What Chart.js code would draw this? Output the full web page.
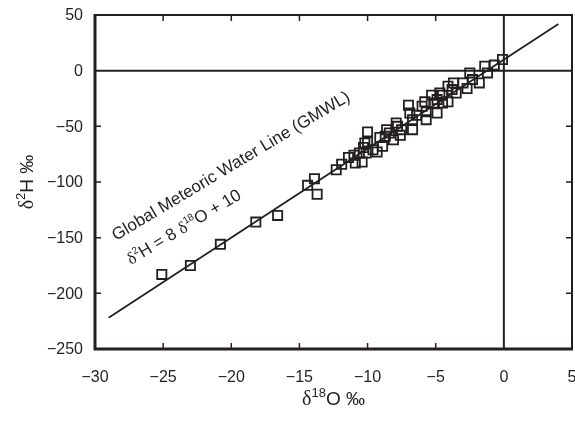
<!DOCTYPE html>
<html>
<head>
<meta charset="utf-8">
<script src="https://cdn.jsdelivr.net/npm/chart.js@4"></script>
<style>
  html, body { margin: 0; padding: 0; background: #fff; }
  #wrap { width: 575px; height: 421px; position: relative; }
</style>
</head>
<body>
<div id="wrap"><canvas id="chart"></canvas></div>
<script>
// samples: d18O (x) and d2H (y), per mil
const d18O = [
  -25.1, -23.0, -20.8, -18.2, -16.6, -14.4, -13.9, -13.7, -12.3, -11.9,
  -11.4, -11.0, -10.9, -10.6, -10.4, -10.3, -10.1, -10.0, -10.0, -10.2,
  -9.6, -9.3, -9.1, -8.9, -8.7, -8.6, -8.4, -8.1, -7.9, -7.8,
  -7.6, -7.5, -7.0, -6.9, -6.7, -6.7, -6.4, -6.0, -5.8, -5.7,
  -5.7, -5.3, -5.1, -4.9, -4.9, -4.7, -4.5, -4.5, -4.1, -4.1,
  -3.8, -3.7, -3.5, -3.0, -2.7, -2.5, -2.3, -1.8, -1.4, -1.2,
  -0.7, -0.1
];
const d2H = [
  -183, -175, -156, -136, -130, -103, -97, -111, -89, -84,
  -78, -76, -83, -74, -82, -69, -74, -64, -55, -65,
  -71, -73, -60, -68, -59, -53, -56, -62, -47, -50,
  -58, -53, -31, -38, -44, -53, -40, -32, -28, -37,
  -44, -22, -29, -38, -26, -20, -29, -22, -14, -28,
  -17, -11, -20, -11, -16, -2, -8, -11, 4, -2,
  5, 10
];
// GMWL: d2H = 8 d18O + 10, end points
const lineX = [-29, 4];
const lineY = [-222, 42];

const xTicks = [-30, -25, -20, -15, -10, -5, 0, 5];
const yTicks = [50, 0, -50, -100, -150, -200, -250];

const INK = '#231f20';
const SANS = '"Liberation Sans", Arial, sans-serif';
const SERIF = '"Liberation Serif", "Times New Roman", serif';

const tickLabel = v => String(v).replace('-', '\u2212');

// draw a run of text pieces (for superscripts / mixed fonts)
function drawRich(ctx, parts, x, y, angle, align) {
  ctx.save();
  ctx.translate(x, y);
  ctx.rotate(angle);
  ctx.textBaseline = 'alphabetic';
  ctx.textAlign = 'left';
  let total = 0;
  const widths = parts.map(p => { ctx.font = p.font; const w = ctx.measureText(p.t).width; total += w; return w; });
  let cx = align === 'center' ? -total / 2 : 0;
  parts.forEach((p, i) => {
    ctx.font = p.font;
    ctx.fillText(p.t, cx, p.dy || 0);
    cx += widths[i];
  });
  ctx.restore();
}

const framePlugin = {
  id: 'frame',
  afterDatasetsDraw(chart) {
    const { ctx, chartArea: a, scales: { x, y } } = chart;
    ctx.save();
    ctx.strokeStyle = INK;
    ctx.lineCap = 'butt';

    // zero lines
    ctx.lineWidth = 2;
    ctx.beginPath();
    ctx.moveTo(a.left, y.getPixelForValue(0));
    ctx.lineTo(a.right, y.getPixelForValue(0));
    ctx.moveTo(x.getPixelForValue(0), a.top);
    ctx.lineTo(x.getPixelForValue(0), a.bottom);
    ctx.stroke();

    // inward ticks
    ctx.lineWidth = 1.5;
    ctx.beginPath();
    xTicks.forEach(v => {
      if (v <= -30 || v >= 5 || v === 0) return;
      const px = x.getPixelForValue(v);
      ctx.moveTo(px, a.top); ctx.lineTo(px, a.top + 6);
      ctx.moveTo(px, a.bottom); ctx.lineTo(px, a.bottom - 6);
    });
    yTicks.forEach(v => {
      if (v >= 50 || v <= -250 || v === 0) return;
      const py = y.getPixelForValue(v);
      ctx.moveTo(a.left, py); ctx.lineTo(a.left + 6, py);
      ctx.moveTo(a.right, py); ctx.lineTo(a.right - 6, py);
    });
    ctx.stroke();

    // frame
    ctx.lineWidth = 2;
    ctx.beginPath();
    ctx.moveTo(a.left, a.top); ctx.lineTo(a.right, a.top); ctx.lineTo(a.right, a.bottom);
    ctx.stroke();
    ctx.lineWidth = 3;
    ctx.beginPath();
    ctx.moveTo(a.left, a.top - 1); ctx.lineTo(a.left, a.bottom); ctx.lineTo(a.right + 1, a.bottom);
    ctx.stroke();

    // tick labels
    ctx.fillStyle = INK;
    ctx.font = '16px ' + SANS;
    ctx.textBaseline = 'middle';
    ctx.textAlign = 'center';
    xTicks.forEach(v => ctx.fillText(tickLabel(v), x.getPixelForValue(v), a.bottom + 29));
    ctx.textAlign = 'right';
    yTicks.forEach(v => ctx.fillText(tickLabel(v), a.left - 12, y.getPixelForValue(v) + 1));

    // annotation along the line
    const ang = -31 * Math.PI / 180;
    const f = '17px ' + SANS;
    drawRich(ctx, [{ t: 'Global Meteoric Water Line (GMWL)', font: f }], 116, 241, ang, 'left');
    drawRich(ctx, [
      { t: 'δ', font: '17px ' + SERIF },
      { t: '2', font: '10px ' + SANS, dy: -7 },
      { t: 'H = 8 ', font: f },
      { t: 'δ', font: '17px ' + SERIF },
      { t: '18', font: '10px ' + SANS, dy: -7 },
      { t: 'O + 10', font: f }
    ], 131, 265, ang, 'left');

    // axis titles
    drawRich(ctx, [
      { t: 'δ', font: '20px ' + SERIF },
      { t: '18', font: '13px ' + SANS, dy: -8 },
      { t: 'O ‰', font: '19px ' + SANS }
    ], (a.left + a.right) / 2, 405, 0, 'center');
    drawRich(ctx, [
      { t: 'δ', font: '20px ' + SERIF },
      { t: '2', font: '13px ' + SANS, dy: -8 },
      { t: 'H ‰', font: '19px ' + SANS }
    ], 33, (a.top + a.bottom) / 2, -Math.PI / 2, 'center');
    ctx.restore();
  }
};

new Chart(document.getElementById('chart'), {
  type: 'scatter',
  data: {
    datasets: [
      {
        type: 'line',
        data: lineX.map((v, i) => ({ x: v, y: lineY[i] })),
        borderColor: INK,
        borderWidth: 1.8,
        pointRadius: 0,
        fill: false
      },
      {
        data: d18O.map((v, i) => ({ x: v, y: d2H[i] })),
        pointStyle: 'rect',
        pointRadius: 6.5,
        pointBorderWidth: 1.8,
        borderColor: INK,
        backgroundColor: 'rgba(0,0,0,0)'
      }
    ]
  },
  options: {
    responsive: true,
    maintainAspectRatio: false,
    animation: false,
    layout: { autoPadding: false, padding: { top: 15, right: 3, left: 0, bottom: 0 } },
    plugins: { legend: { display: false }, tooltip: { enabled: false } },
    scales: {
      x: {
        type: 'linear',
        min: -30, max: 5,
        afterFit: s => { s.height = 72; },
        grid: { display: false, drawTicks: false },
        border: { display: false },
        ticks: { display: false }
      },
      y: {
        type: 'linear',
        min: -250, max: 50,
        afterFit: s => { s.width = 95; },
        grid: { display: false, drawTicks: false },
        border: { display: false },
        ticks: { display: false }
      }
    }
  },
  plugins: [framePlugin]
});
</script>
</body>
</html>
